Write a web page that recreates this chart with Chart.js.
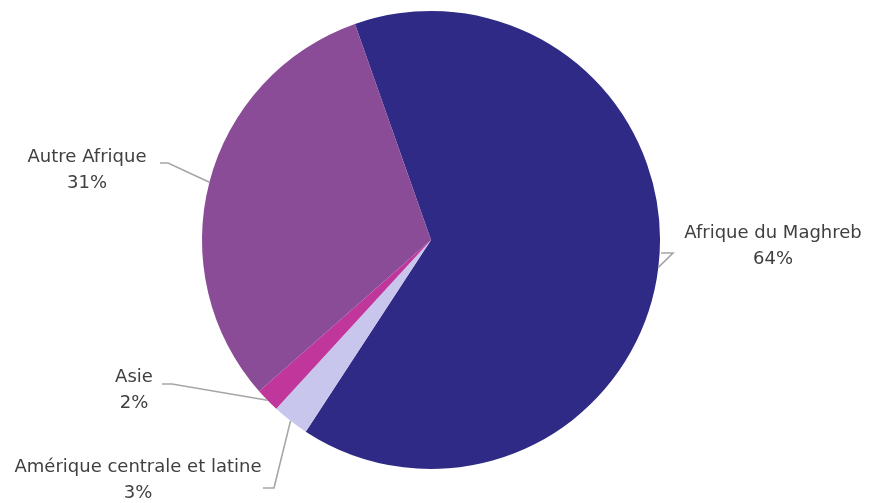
<!DOCTYPE html>
<html lang="fr">
<head>
<meta charset="utf-8">
<script src="https://cdn.jsdelivr.net/npm/chart.js@4"></script>
<style>
  html, body { margin: 0; padding: 0; background: #ffffff; }
  #wrap { width: 872px; height: 503px; }
</style>
</head>
<body>
<div id="wrap"><canvas id="myChart" width="872" height="503"></canvas></div>
<script>
const regions = ["Afrique du Maghreb", "Amérique centrale et latine", "Asie", "Autre Afrique"];
const shares = [64.6, 2.6, 1.7, 31.1];
const shareLabels = ["64%", "3%", "2%", "31%"];
const sliceColors = ["#2E2A86", "#C8C6EC", "#C0369B", "#8A4C97"];

// where each label sits (text centre, elbow of the leader line)
const labelLayout = [
  { x: 773, y: 233, elbowX: 673, elbowY: 253, lineStartX: 661 },
  { x: 138, y: 467, elbowX: 274, elbowY: 488, lineStartX: 263 },
  { x: 134, y: 377, elbowX: 172, elbowY: 384, lineStartX: 162 },
  { x: 87, y: 157, elbowX: 168, elbowY: 163, lineStartX: 160 }
];

const labelPlugin = {
  id: "pieLabels",
  afterDatasetsDraw(chart) {
    const c = chart.ctx;
    const meta = chart.getDatasetMeta(0);
    meta.data.forEach((arc, i) => {
      const mid = (arc.startAngle + arc.endAngle) / 2;
      const ax = arc.x + Math.cos(mid) * arc.outerRadius;
      const ay = arc.y + Math.sin(mid) * arc.outerRadius;
      const lay = labelLayout[i];

      c.save();
      c.strokeStyle = "#A6A6A6";
      c.lineWidth = 1.6;
      c.beginPath();
      c.moveTo(lay.lineStartX, lay.elbowY);
      c.lineTo(lay.elbowX, lay.elbowY);
      c.lineTo(ax, ay);
      c.stroke();

      c.fillStyle = "#404040";
      c.font = "18px 'DejaVu Sans'";
      c.textAlign = "center";
      c.textBaseline = "middle";
      c.fillText(regions[i], lay.x, lay.y);
      c.fillText(shareLabels[i], lay.x, lay.y + 26);
      c.restore();
    });
  }
};

const ctx = document.getElementById("myChart").getContext("2d");
new Chart(ctx, {
  type: "pie",
  data: {
    labels: regions,
    datasets: [
      {
        data: shares,
        backgroundColor: sliceColors,
        borderWidth: 0
      }
    ]
  },
  options: {
    responsive: false,
    animation: false,
    rotation: -19.4,
    layout: {
      padding: { top: 11, bottom: 34, left: 202, right: 212 }
    },
    plugins: {
      legend: { display: false },
      tooltip: { enabled: false }
    }
  },
  plugins: [labelPlugin]
});
</script>
</body>
</html>
